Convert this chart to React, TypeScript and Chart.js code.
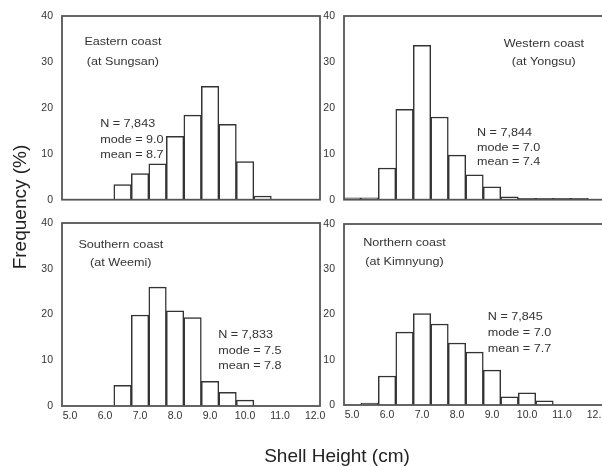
import React, { useEffect, useRef } from "react";
import { Chart, registerables } from "chart.js";

Chart.register(...registerables);

// ---- Data (shell height class midpoints in cm, frequency in %) ----
const easternHeights = [6.5, 7.0, 7.5, 8.0, 8.5, 9.0, 9.5, 10.0, 10.5];
const easternFreq = [3.3, 5.7, 7.8, 13.8, 18.4, 24.7, 16.4, 8.3, 0.8];

const westernHeights = [5.0, 5.5, 6.0, 6.5, 7.0, 7.5, 8.0, 8.5, 9.0, 9.5, 10.0, 10.5, 11.0, 11.5];
const westernFreq = [0.4, 0.4, 6.9, 19.7, 33.6, 18.0, 9.7, 5.4, 2.8, 0.6, 0.3, 0.3, 0.3, 0.3];

const southernHeights = [6.5, 7.0, 7.5, 8.0, 8.5, 9.0, 9.5, 10.0];
const southernFreq = [4.5, 19.9, 26.0, 20.8, 19.3, 5.4, 3.0, 1.3];

const northernHeights = [5.5, 6.0, 6.5, 7.0, 7.5, 8.0, 8.5, 9.0, 9.5, 10.0, 10.5];
const northernFreq = [0.4, 6.4, 16.1, 20.2, 17.9, 13.7, 11.7, 7.7, 1.8, 2.7, 0.9];

const xTickValues = [5, 6, 7, 8, 9, 10, 11, 12];
const yTickValues = [0, 10, 20, 30, 40];

const easternNotes = ["Eastern coast", "(at Sungsan)", "N = 7,843", "mode = 9.0", "mean = 8.7"];
const westernNotes = ["Western coast", "(at Yongsu)", "N = 7,844", "mode = 7.0", "mean = 7.4"];
const southernNotes = ["Southern coast", "(at Weemi)", "N = 7,833", "mode = 7.5", "mean = 7.8"];
const northernNotes = ["Northern coast", "(at Kimnyung)", "N = 7,845", "mode = 7.0", "mean = 7.7"];

const yAxisTitle = "Frequency (%)";
const xAxisTitle = "Shell Height (cm)";

// ---- Styling / layout ----
const FONT = '"Liberation Sans", Arial, Helvetica, sans-serif';
const TEXT = "#333";
const X_MIN = 4.77;

type NoteSpec = { text: string; x: number; y: number; align: CanvasTextAlign };

function makeNotes(t: string[], titleX: number, titleY: [number, number], statX: number, statY: [number, number, number]): NoteSpec[] {
  return [
    { text: t[0], x: titleX, y: titleY[0], align: "center" },
    { text: t[1], x: titleX, y: titleY[1], align: "center" },
    { text: t[2], x: statX, y: statY[0], align: "left" },
    { text: t[3], x: statX, y: statY[1], align: "left" },
    { text: t[4], x: statX, y: statY[2], align: "left" },
  ];
}

const notesPlugin = {
  id: "panelNotes",
  afterDatasetsDraw(chart: any, _args: any, opts: any) {
    const { ctx, chartArea, scales } = chart;
    ctx.save();
    ctx.strokeStyle = "#555";
    ctx.lineWidth = 1.8;
    ctx.strokeRect(chartArea.left, chartArea.top, chartArea.right - chartArea.left, chartArea.bottom - chartArea.top);
    ctx.fillStyle = TEXT;
    ctx.font = `10.5px ${FONT}`;
    ctx.textBaseline = "middle";
    for (const n of (opts.notes || []) as NoteSpec[]) {
      const px = scales.x.getPixelForValue(n.x);
      const py = scales.y.getPixelForValue(n.y);
      ctx.save();
      ctx.translate(px, py);
      ctx.scale(1.2, 1);
      ctx.textAlign = n.align;
      ctx.fillText(n.text, 0, 0);
      ctx.restore();
    }
    ctx.restore();
  },
};

type PanelProps = {
  heights: number[];
  freq: number[];
  notes: NoteSpec[];
  left: number;
  top: number;
  width: number;
  height: number;
  padTop: number;
  padRight: number;
  xAxisH: number;
  xMax: number;
  showX: boolean;
};

function Panel(p: PanelProps) {
  const ref = useRef<HTMLCanvasElement | null>(null);
  useEffect(() => {
    if (!ref.current) return;
    const chart = new Chart(ref.current, {
      type: "bar",
      data: {
        datasets: [
          {
            data: p.heights.map((h, i) => ({ x: h, y: p.freq[i] })),
            backgroundColor: "#ffffff",
            borderColor: "#333",
            borderWidth: 1.5,
            barPercentage: 1,
            categoryPercentage: 1,
          },
        ],
      },
      plugins: [notesPlugin],
      options: {
        animation: false,
        responsive: false,
        events: [],
        layout: { padding: { top: p.padTop, right: p.padRight, left: 0, bottom: 0 } },
        plugins: {
          legend: { display: false },
          tooltip: { enabled: false },
          panelNotes: { notes: p.notes },
        } as any,
        scales: {
          x: {
            type: "linear",
            min: X_MIN,
            max: p.xMax,
            offset: false,
            grid: { display: false, drawTicks: false },
            border: { display: false },
            ticks: {
              display: p.showX,
              autoSkip: false,
              maxRotation: 0,
              padding: 4,
              color: TEXT,
              font: { family: FONT, size: 10.5 },
              callback: (v: any) => Number(v).toFixed(1),
            },
            afterBuildTicks: (s: any) => {
              s.ticks = xTickValues.map((v) => ({ value: v }));
            },
            afterFit: (s: any) => {
              s.height = p.xAxisH;
            },
          },
          y: {
            type: "linear",
            min: 0,
            max: 40,
            grid: { display: false, drawTicks: false },
            border: { display: false },
            ticks: {
              padding: 9,
              color: TEXT,
              font: { family: FONT, size: 10.5 },
            },
            afterBuildTicks: (s: any) => {
              s.ticks = yTickValues.map((v) => ({ value: v }));
            },
            afterFit: (s: any) => {
              s.width = 62;
            },
          },
        } as any,
      },
    });
    return () => chart.destroy();
  }, []);
  return (
    <canvas
      ref={ref}
      width={p.width}
      height={p.height}
      style={{ position: "absolute", left: p.left, top: p.top, width: p.width, height: p.height }}
    />
  );
}

export default function App() {
  return (
    <div
      style={{
        position: "fixed",
        left: 0,
        top: 0,
        width: 602,
        height: 466,
        overflow: "hidden",
        background: "#fff",
      }}
    >
      <Panel
        heights={easternHeights}
        freq={easternFreq}
        notes={makeNotes(easternNotes, 6.51, [34.3, 30.0], 5.86, [16.4, 13.0, 9.8])}
        left={0}
        top={0}
        width={330}
        height={215}
        padTop={16}
        padRight={10}
        xAxisH={12}
        xMax={12.14}
        showX={false}
      />
      <Panel
        heights={westernHeights}
        freq={westernFreq}
        notes={makeNotes(westernNotes, 10.48, [33.8, 29.9], 8.57, [14.5, 11.3, 8.1])}
        left={282}
        top={0}
        width={340}
        height={215}
        padTop={16}
        padRight={18}
        xAxisH={12}
        xMax={12.2}
        showX={false}
      />
      <Panel
        heights={southernHeights}
        freq={southernFreq}
        notes={makeNotes(southernNotes, 6.45, [35.2, 31.3], 9.23, [15.5, 12.0, 8.7])}
        left={0}
        top={207}
        width={330}
        height={259}
        padTop={16}
        padRight={10}
        xAxisH={60}
        xMax={12.14}
        showX={true}
      />
      <Panel
        heights={northernHeights}
        freq={northernFreq}
        notes={makeNotes(northernNotes, 6.5, [35.8, 31.6], 8.88, [19.4, 15.9, 12.4])}
        left={282}
        top={207}
        width={340}
        height={259}
        padTop={17}
        padRight={18}
        xAxisH={61}
        xMax={12.2}
        showX={true}
      />
      <div
        style={{
          position: "absolute",
          left: 19.5 - 100,
          top: 207 - 12,
          width: 200,
          height: 24,
          lineHeight: "24px",
          textAlign: "center",
          fontFamily: FONT,
          fontSize: 19,
          color: "#222",
          transform: "rotate(-90deg)",
          whiteSpace: "nowrap",
        }}
      >
        {yAxisTitle}
      </div>
      <div
        style={{
          position: "absolute",
          left: 337 - 100,
          top: 446,
          width: 200,
          height: 20,
          lineHeight: "20px",
          textAlign: "center",
          fontFamily: FONT,
          fontSize: 19,
          color: "#222",
          whiteSpace: "nowrap",
        }}
      >
        {xAxisTitle}
      </div>
    </div>
  );
}
